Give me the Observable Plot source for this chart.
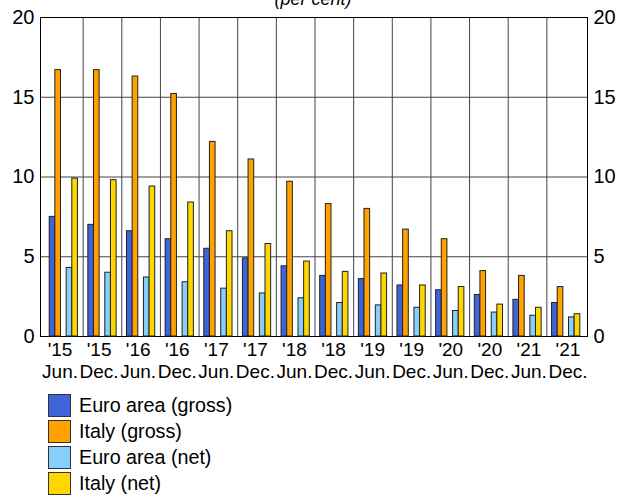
<!DOCTYPE html>
<html>
<head>
<meta charset="utf-8">
<script src="https://cdn.jsdelivr.net/npm/d3@7"></script>
<script src="https://cdn.jsdelivr.net/npm/@observablehq/plot@0.6"></script>
<style>
  body { margin: 0; background: white; font-family: "Liberation Sans", Arial, sans-serif; }
  #wrap { position: relative; width: 630px; height: 495px; overflow: hidden; }
  #title { position: absolute; top: -10px; left: 0; width: 626px; text-align: center; font: italic 18px/18px "Liberation Sans", Arial, sans-serif; }
  #chart { position: absolute; top: 0; left: 0; width: 630px; height: 385px; }
  #chart svg { position: absolute; top: 0; left: 0; }
  #legend { position: absolute; top: 393px; left: 48px; }
  .row { display: flex; align-items: center; height: 25.8px; font-size: 19.7px; }
  .sw { width: 21px; height: 21px; border: 1px solid #333; margin-right: 8px; }
</style>
</head>
<body>
<div id="wrap">
  <div id="title">(per cent)</div>
  <div id="chart"></div>
  <div id="legend"></div>
</div>
<script>
const periods = ["Jun.'15","Dec.'15","Jun.'16","Dec.'16","Jun.'17","Dec.'17","Jun.'18","Dec.'18","Jun.'19","Dec.'19","Jun.'20","Dec.'20","Jun.'21","Dec.'21"];
const tickYears = ["'15","'15","'16","'16","'17","'17","'18","'18","'19","'19","'20","'20","'21","'21"];
const tickHalves = ["Jun.","Dec.","Jun.","Dec.","Jun.","Dec.","Jun.","Dec.","Jun.","Dec.","Jun.","Dec.","Jun.","Dec."];
const euroGross = [7.5, 7.0, 6.6, 6.1, 5.5, 4.9, 4.4, 3.8, 3.6, 3.2, 2.9, 2.6, 2.3, 2.1];
const italyGross = [16.7, 16.7, 16.3, 15.2, 12.2, 11.1, 9.7, 8.3, 8.0, 6.7, 6.1, 4.1, 3.8, 3.1];
const euroNet = [4.3, 4.0, 3.7, 3.4, 3.0, 2.7, 2.4, 2.1, 1.95, 1.8, 1.6, 1.5, 1.3, 1.2];
const italyNet = [9.9, 9.8, 9.4, 8.4, 6.6, 5.8, 4.7, 4.05, 3.95, 3.2, 3.1, 2.0, 1.8, 1.4];
const seriesNames = ["Euro area (gross)", "Italy (gross)", "Euro area (net)", "Italy (net)"];
const seriesColors = ["#3E64DA", "#FFA200", "#87CEFA", "#FFD700"];
const slots = ["Euro area (gross)", "Italy (gross)", "", "Euro area (net)", "Italy (net)"];
const yTicks = [0, 5, 10, 15, 20];

const seriesValues = [euroGross, italyGross, euroNet, italyNet];
const data = [];
periods.forEach((p, i) => seriesNames.forEach((s, j) => data.push({period: p, series: s, value: seriesValues[j][i]})));

const W = 630, H = 385;
const font = "Liberation Sans, Arial, sans-serif";
const tickLabel = d => tickYears[periods.indexOf(d)] + "\n" + tickHalves[periods.indexOf(d)];

// background: frame, gridlines, y axes
const bg = Plot.plot({
  width: W, height: H,
  marginLeft: 40, marginRight: 43, marginTop: 17, marginBottom: 49,
  style: {background: "transparent", fontFamily: font, fontSize: "20px", color: "black"},
  x: {type: "linear", domain: [0, periods.length], insetLeft: 4, insetRight: 2, axis: null},
  y: {domain: [0, 20], axis: null},
  marks: [
    Plot.ruleX(d3.range(1, periods.length), {stroke: "#444", strokeWidth: 1}),
    Plot.ruleY(yTicks, {stroke: "#444", strokeWidth: 1}),
    Plot.frame({stroke: "black"}),
    Plot.axisY(yTicks, {anchor: "left", tickSize: 0, tickPadding: 6, fontSize: 20, label: null}),
    Plot.axisY(yTicks, {anchor: "right", tickSize: 0, tickPadding: 6, fontSize: 20, label: null})
  ]
});

// x tick labels spread across the whole frame
const labels = Plot.plot({
  width: W, height: H,
  marginLeft: 40, marginRight: 43, marginTop: 17, marginBottom: 49,
  style: {background: "transparent", fontFamily: font, fontSize: "19px", color: "black"},
  x: {type: "band", domain: periods, padding: 0, round: false, axis: null},
  y: {domain: [0, 20], axis: null},
  marks: [
    Plot.axisX({anchor: "bottom", tickSize: 0, tickPadding: 4, fontSize: 19, lineHeight: 1.15, label: null, tickFormat: tickLabel})
  ]
});

// foreground: bars faceted by period
const fg = Plot.plot({
  width: W, height: H,
  marginLeft: 44, marginRight: 45, marginTop: 17, marginBottom: 49,
  style: {background: "transparent", fontFamily: font, fontSize: "18px", color: "black"},
  fx: {domain: periods, padding: 0, round: false, axis: null},
  x: {domain: slots, paddingInner: 0, paddingOuter: 0.92, round: false, axis: null},
  y: {domain: [0, 20], axis: null},
  color: {domain: seriesNames, range: seriesColors},
  marks: [
    Plot.barY(data, {fx: "period", x: "series", y: "value", fill: "series", stroke: "#222", strokeWidth: 1})
  ]
});

const chart = document.getElementById("chart");
chart.appendChild(bg);
chart.appendChild(labels);
chart.appendChild(fg);

const legend = document.getElementById("legend");
seriesNames.forEach((s, i) => {
  const row = document.createElement("div");
  row.className = "row";
  const sw = document.createElement("div");
  sw.className = "sw";
  sw.style.background = seriesColors[i];
  const t = document.createElement("span");
  t.textContent = s;
  row.appendChild(sw);
  row.appendChild(t);
  legend.appendChild(row);
});
</script>
</body>
</html>
